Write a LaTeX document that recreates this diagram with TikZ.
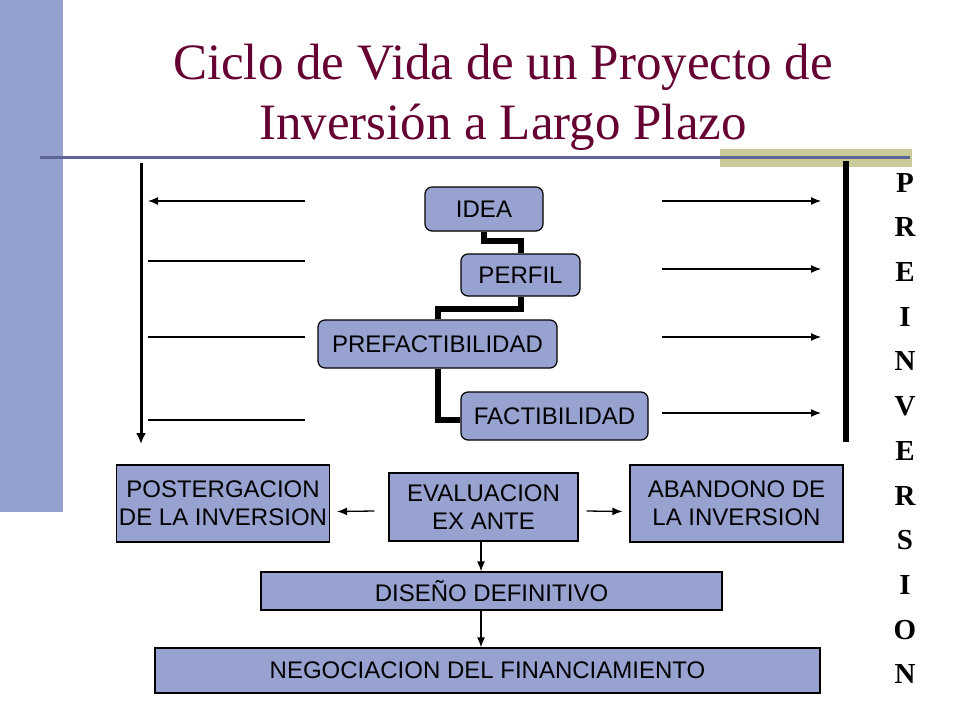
\documentclass[tikz,border=0pt]{standalone}
\usepackage{fontspec}
\setmainfont{Liberation Serif}
\setsansfont{Liberation Sans}
\usepackage{tikz}
\usetikzlibrary{arrows.meta}

\definecolor{azulcaja}{RGB}{151,162,208}
\definecolor{azulbarra}{RGB}{148,160,206}
\definecolor{azullinea}{RGB}{92,99,150}
\definecolor{oliva}{RGB}{202,202,152}
\definecolor{granate}{RGB}{102,0,51}

\begin{document}
\begin{tikzpicture}[x=1pt,y=-1pt,
        fase/.style={draw,rounded corners=7pt,fill=azulcaja,line width=1.2pt,inner sep=0pt,
            font=\fontsize{24}{28}\selectfont\sffamily},
        caja/.style={draw,fill=azulcaja,line width=1.2pt,inner sep=0pt,align=center,
            font=\fontsize{24}{28}\selectfont\sffamily},
        conector/.style={line width=6pt},
        flecha/.style={line width=1.3pt,-{Latex[length=10pt,width=8pt]}},
        raya/.style={line width=2.5pt}]

    \useasboundingbox (0,0) rectangle (960,720);
    \fill[white] (0,0) rectangle (960,720);

    % marco de la lamina
    \fill[azulbarra] (0,0) rectangle (63,512);
    \fill[oliva] (720,149) rectangle (912,167);
    \draw[azullinea,line width=3pt] (40,157) -- (910,157);

    \node[text=granate,align=center,inner sep=0pt,
        font=\fontsize{51}{60}\selectfont] (titulo) at (503,97)
        {Ciclo de Vida de un Proyecto de\\Inversi\'on a Largo Plazo};

    % etapas de la preinversion
    \node[fase,minimum width=118,minimum height=44] (idea) at (484,209) {IDEA};
    \node[fase,minimum width=119,minimum height=42] (perfil) at (520.5,275) {PERFIL};
    \node[fase,minimum width=239,minimum height=48] (prefact) at (437.5,344) {PREFACTIBILIDAD};
    \node[fase,minimum width=187,minimum height=48] (fact) at (554.5,416) {FACTIBILIDAD};

    \draw[conector] (idea.south) -- ++(0,9) -| (perfil.north);
    \draw[conector] (perfil.south) -- ++(0,12) -| (prefact.north);
    \draw[conector] (prefact.south) |- ([yshift=-4pt]fact.west);

    % lineas de la izquierda
    \coordinate (izqA) at (141,163);
    \coordinate (izqB) at (141,444);
    \draw[line width=3pt,-{Latex[length=11pt,width=10pt]}] (izqA) -- (izqB);
    \coordinate (vuelta1) at (305,201);
    \coordinate (vuelta2) at (148,201);
    \draw[flecha] (vuelta1) -- (vuelta2);
    \foreach \y [count=\i] in {261,337,420} {
        \coordinate (izq\i) at (148,\y);
        \coordinate (med\i) at (305,\y);
        \draw[raya] (izq\i) -- (med\i);
    }

    % flechas de la derecha
    \foreach \y [count=\i] in {201,269,337,413} {
        \coordinate (salida\i) at (662,\y);
        \coordinate (llegada\i) at (821,\y);
        \draw[flecha] (salida\i) -- (llegada\i);
    }
    \coordinate (derA) at (845.5,161);
    \coordinate (derB) at (845.5,442);
    \draw[line width=6pt] (derA) -- (derB);

    \node[anchor=north,align=center,inner sep=0pt,
        font=\fontsize{29}{44.7}\selectfont\bfseries] (preinv) at (905,173)
        {P\\R\\E\\I\\N\\V\\E\\R\\S\\I\\O\\N};

    % evaluacion y etapas siguientes
    \node[caja,minimum width=213,minimum height=77] (poster) at (223,503.5) {POSTERGACION\\DE LA INVERSION};
    \node[caja,minimum width=189,minimum height=68] (evalua) at (483.5,507) {EVALUACION\\EX ANTE};
    \node[caja,minimum width=213,minimum height=77] (abandono) at (736.5,503.5) {ABANDONO DE\\LA INVERSION};
    \node[caja,minimum width=461,minimum height=38] (diseno) at (491.5,591) {DISEÑO DEFINITIVO};
    \node[caja,minimum width=665,minimum height=45] (negocia) at (487.5,670.5) {NEGOCIACION DEL FINANCIAMIENTO};

    \draw[flecha] ([shift={(-14,4)}]evalua.west) -- ([shift={(7,8)}]poster.east);
    \draw[flecha] ([shift={(8,4)}]evalua.east) -- ([shift={(-7,8)}]abandono.west);
    \draw[flecha] ([xshift=-2.5pt]evalua.south) -- ([xshift=-2.5pt]evalua.south |- diseno.north);
    \draw[flecha] ([xshift=-2.5pt]evalua.south |- diseno.south) -- ([xshift=-2.5pt]evalua.south |- negocia.north);
\end{tikzpicture}
\end{document}
